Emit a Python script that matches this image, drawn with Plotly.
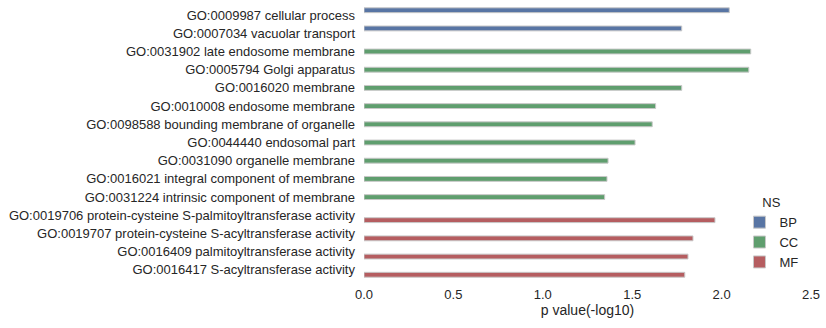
import plotly.graph_objects as go

categories = [
    "GO:0009987 cellular process",
    "GO:0007034 vacuolar transport",
    "GO:0031902 late endosome membrane",
    "GO:0005794 Golgi apparatus",
    "GO:0016020 membrane",
    "GO:0010008 endosome membrane",
    "GO:0098588 bounding membrane of organelle",
    "GO:0044440 endosomal part",
    "GO:0031090 organelle membrane",
    "GO:0016021 integral component of membrane",
    "GO:0031224 intrinsic component of membrane",
    "GO:0019706 protein-cysteine S-palmitoyltransferase activity",
    "GO:0019707 protein-cysteine S-acyltransferase activity",
    "GO:0016409 palmitoyltransferase activity",
    "GO:0016417 S-acyltransferase activity",
]
ns = ["BP", "BP", "CC", "CC", "CC", "CC", "CC", "CC", "CC", "CC", "CC",
      "MF", "MF", "MF", "MF"]
values = [2.043, 1.777, 2.163, 2.152, 1.777, 1.631, 1.612, 1.516, 1.365,
          1.359, 1.346, 1.963, 1.840, 1.812, 1.794]
groups = ["BP", "CC", "MF"]
colors = {"BP": "#5875A4", "CC": "#5F9E6E", "MF": "#B55D60"}

slot = 0.8 / len(groups)
fig = go.Figure()
for i, g in enumerate(groups):
    ys = [c for c, n in zip(categories, ns) if n == g]
    xs = [v for v, n in zip(values, ns) if n == g]
    fig.add_trace(go.Bar(
        x=xs, y=ys, name=g, orientation="h",
        width=slot, offset=-0.4 + i * slot,
        marker=dict(color=colors[g], line=dict(color="#c8c8c8", width=1)),
    ))

font = "Liberation Sans, Arial, sans-serif"
fig.update_layout(
    width=826, height=328,
    margin=dict(l=364, r=15, t=6, b=49),
    paper_bgcolor="white", plot_bgcolor="white",
    barmode="overlay",
    font=dict(family=font, size=13, color="#262626"),
    legend=dict(
        title=dict(text="NS", side="top center", font=dict(size=13)),
        x=0.84, y=0.325, xanchor="left", yanchor="top",
        bgcolor="rgba(0,0,0,0)", font=dict(size=13),
        tracegroupgap=0, itemwidth=30,
    ),
    xaxis=dict(
        range=[0, 2.5], tickvals=[0, 0.5, 1.0, 1.5, 2.0, 2.5],
        ticktext=["0.0", "0.5", "1.0", "1.5", "2.0", "2.5"],
        showgrid=False, zeroline=False, showline=False, ticks="",
        ticklabelstandoff=6,
        title=dict(text="p value(-log10)", font=dict(size=14), standoff=4),
        tickfont=dict(size=13),
    ),
    yaxis=dict(
        type="category", categoryorder="array", categoryarray=categories,
        range=[14.5, -0.5], showgrid=False, zeroline=False, showline=False,
        ticks="", ticklabelstandoff=8, tickfont=dict(size=13),
    ),
)
fig.write_html("out.html")
